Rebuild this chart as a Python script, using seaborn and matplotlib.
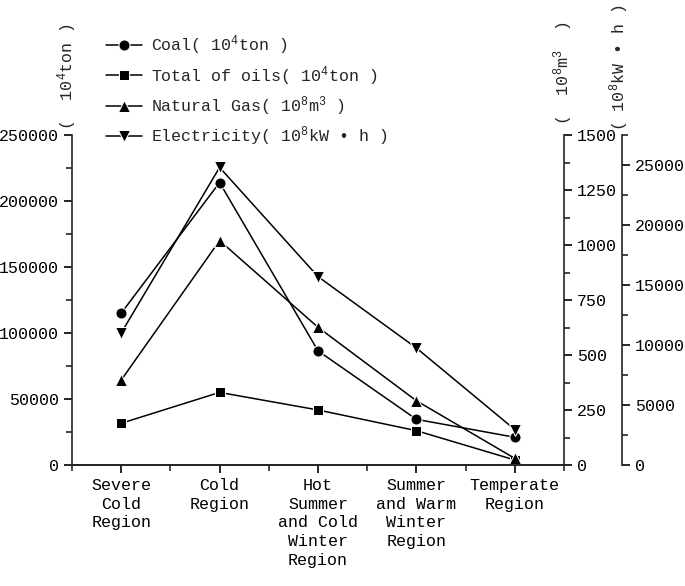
import numpy as np
import pandas as pd
import seaborn as sns
import matplotlib.pyplot as plt
from matplotlib.ticker import MultipleLocator, FixedLocator

regions = ['Severe\nCold\nRegion', 'Cold\nRegion', 'Hot\nSummer\nand Cold\nWinter\nRegion',
           'Summer\nand Warm\nWinter\nRegion', 'Temperate\nRegion']
coal = [115000, 214000, 86500, 34600, 21000]
oils = [31600, 55000, 41700, 26000, 3800]
gas = [386, 1020, 626, 292, 30]
electricity = [11000, 24800, 15700, 9750, 2950]

sns.set_style('ticks')
plt.rcParams['font.family'] = ['Liberation Mono', 'DejaVu Sans']
plt.rcParams['mathtext.fontset'] = 'custom'
plt.rcParams['mathtext.rm'] = 'Liberation Mono'
plt.rcParams['font.size'] = 12

fig = plt.figure(figsize=(6.85, 5.86), dpi=100)
ax = fig.add_axes([72/685, 1-465/586, (564-72)/685, 330/586])
ax2 = ax.twinx()
ax3 = ax.twinx()
ax3.spines['right'].set_position(('outward', 58*0.72))

lw = 1.1
ms = 8
sns.lineplot(x=regions, y=coal, ax=ax, sort=False, color='black', marker='o', markersize=ms,
             lw=lw, label='Coal( $\\mathregular{10^{4}}$ton )')
sns.lineplot(x=regions, y=oils, ax=ax, sort=False, color='black', marker='s', markersize=ms-1,
             lw=lw, label='Total of oils( $\\mathregular{10^{4}}$ton )')
sns.lineplot(x=regions, y=gas, ax=ax2, sort=False, color='black', marker='^', markersize=ms,
             lw=lw, label='Natural Gas( $\\mathregular{10^{8}m^{3}}$ )')
sns.lineplot(x=regions, y=electricity, ax=ax3, sort=False, color='black', marker='v', markersize=ms,
             lw=lw, label='Electricity( $\\mathregular{10^{8}}$kW • h )')

for a in (ax, ax2, ax3):
    a.get_legend().remove()
    a.spines['top'].set_visible(False)
    for s in a.spines.values():
        s.set_linewidth(1.2)
    a.tick_params(which='major', length=6, width=1.2, direction='out', labelsize=12, colors='black')
    a.tick_params(which='minor', length=4, width=1.2, direction='out')

ax.set_xlim(-0.5, 4.5)
ax.xaxis.set_minor_locator(FixedLocator([-0.5, 0.5, 1.5, 2.5, 3.5, 4.5]))
ax.set_ylim(0, 250000)
ax.yaxis.set_major_locator(MultipleLocator(50000))
ax.yaxis.set_minor_locator(MultipleLocator(25000))
ax2.set_ylim(0, 1500)
ax2.yaxis.set_major_locator(MultipleLocator(250))
ax2.yaxis.set_minor_locator(MultipleLocator(125))
ax3.set_ylim(0, 27500)
ax3.yaxis.set_major_locator(FixedLocator([0, 5000, 10000, 15000, 20000, 25000]))
ax3.yaxis.set_minor_locator(MultipleLocator(2500))
ax.spines['right'].set_visible(False)
ax2.spines['left'].set_visible(False)
ax3.spines['left'].set_visible(False)
ax.set_ylabel('')
plt.setp(ax.get_xticklabels(), linespacing=1.3, ha='center', multialignment='center')

# axis unit labels sit above each y axis
fig.text(67/685, 1-130/586, '(  $\\mathregular{10^{4}}$ton )', rotation=90, ha='center', va='bottom')
fig.text(563/685, 1-125/586, '(  $\\mathregular{10^{8}m^{3}}$  )', rotation=90, ha='center', va='bottom')
fig.text(619/685, 1-131/586, '( $\\mathregular{10^{8}}$kW • h )', rotation=90, ha='center', va='bottom')

handles, labels = [], []
for a in (ax, ax2, ax3):
    h, l = a.get_legend_handles_labels()
    handles += h
    labels += l
fig.legend(handles, labels, loc='upper left', bbox_to_anchor=(99/685, 1-27/586), frameon=False,
           handlelength=2.2, handletextpad=0.5, labelspacing=0.4, fontsize=12, borderaxespad=0)

fig.savefig('out.png', dpi=100)
